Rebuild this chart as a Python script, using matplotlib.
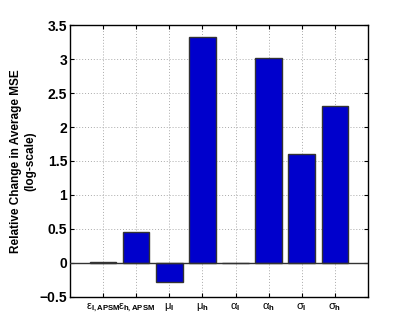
import matplotlib
matplotlib.use("Agg")
import matplotlib.pyplot as plt

# Parametere og verdier
params = ["ε$_{\\mathbf{l,APSM}}$", "ε$_{\\mathbf{h,APSM}}$",
          "μ$_{\\mathbf{l}}$", "μ$_{\\mathbf{h}}$",
          "α$_{\\mathbf{l}}$", "α$_{\\mathbf{h}}$",
          "σ$_{\\mathbf{l}}$", "σ$_{\\mathbf{h}}$"]
endring = [0.01, 0.46, -0.28, 3.32, 0.005, 3.01, 1.60, 2.31]
yticks = [-0.5, 0, 0.5, 1, 1.5, 2, 2.5, 3, 3.5]
ytick_labels = ["\u22120.5", "0", "0.5", "1", "1.5", "2", "2.5", "3", "3.5"]

plt.rcParams['font.family'] = ['Liberation Sans', 'DejaVu Sans']
plt.rcParams['mathtext.fontset'] = 'custom'
plt.rcParams['mathtext.rm'] = 'Liberation Sans'
plt.rcParams['mathtext.it'] = 'Liberation Sans:italic'
plt.rcParams['mathtext.bf'] = 'Liberation Sans:bold'

fig = plt.figure(figsize=(4.07, 3.34), dpi=100)
ax = fig.add_axes([0.172, 0.111, 0.732, 0.814])

x = range(1, len(endring) + 1)
ax.bar(x, endring, width=0.8, color='#0000cc', edgecolor='#333333',
       linewidth=1.0, zorder=3)
ax.axhline(0, color='#333333', linewidth=1.0, zorder=4)

ax.set_xlim(0, 9)
ax.set_ylim(-0.5, 3.5)
ax.set_yticks(yticks)
ax.set_yticklabels(ytick_labels, fontsize=10, fontweight='bold')
ax.set_xticks(list(x))
ax.set_xticklabels(params, fontsize=8)

ax.grid(True, linestyle=(0, (1, 2)), color='#aaaaaa', linewidth=0.7, zorder=0)
ax.tick_params(axis='both', direction='in', top=True, right=True,
               length=3, width=0.8)
ax.tick_params(axis='y', pad=2)
ax.tick_params(axis='x', pad=3)
for s in ax.spines.values():
    s.set_linewidth(1.0)

ax.set_ylabel("Relative Change in Average MSE\n(log-scale)", fontsize=8.5,
              fontweight='bold', labelpad=2, linespacing=1.3)

fig.savefig("out.png", dpi=100)
